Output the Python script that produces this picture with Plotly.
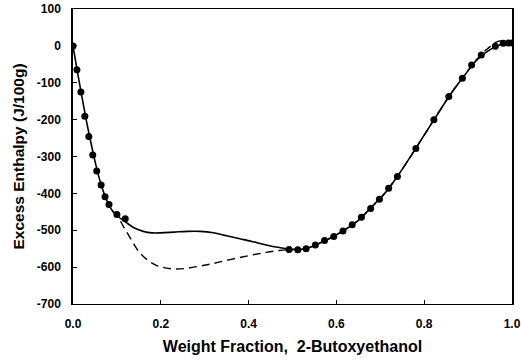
import plotly.graph_objects as go

# Measured data points (markers)
px_ = [0.0, 0.009, 0.018, 0.027, 0.036, 0.045, 0.054, 0.064, 0.073, 0.082, 0.100, 0.119,
       0.492, 0.512, 0.531, 0.552, 0.573, 0.594, 0.615, 0.636, 0.657, 0.678, 0.698,
       0.719, 0.739, 0.781, 0.822, 0.856, 0.887, 0.908, 0.930, 0.962, 0.980, 0.992, 1.0]
py_ = [0, -65, -125, -191, -246, -296, -339, -377, -409, -430, -457, -469,
       -552, -553, -550, -540, -528, -517, -502, -485, -465, -441, -416,
       -386, -354, -278, -200, -137, -88, -52, -25, -1, 7, 8, 8]

# Solid curve
sx = [0, 0.01, 0.02, 0.03, 0.04, 0.05, 0.06, 0.07, 0.08, 0.09, 0.10, 0.12, 0.14, 0.16,
      0.18, 0.20, 0.23, 0.26, 0.29, 0.32, 0.35, 0.38, 0.41, 0.44, 0.47, 0.50, 0.53,
      0.56, 0.59, 0.62, 0.65, 0.68, 0.71, 0.74, 0.77, 0.80, 0.83, 0.86, 0.89, 0.92,
      0.95, 0.98, 1.0]
sy = [0, -70, -136, -200, -258, -312, -360, -398, -427, -448, -460, -478, -494, -503,
      -507, -507, -505, -503, -503, -507, -515, -523, -531, -540, -547, -552, -550,
      -536, -519, -498, -473, -437, -400, -352, -298, -242, -186, -131, -83, -38,
      -10, 6, 8]

# Dashed curve
dx = [0.09, 0.10, 0.115, 0.13, 0.15, 0.17, 0.19, 0.21, 0.235, 0.26, 0.29, 0.32, 0.36,
      0.40, 0.44, 0.47, 0.50, 0.53, 0.56, 0.59, 0.62, 0.65, 0.68, 0.71, 0.74, 0.77,
      0.80, 0.83, 0.86, 0.89, 0.92, 0.95, 0.97, 0.99, 1.0]
dy = [-448, -460, -490, -520, -558, -581, -595, -602, -605, -603, -597, -590, -579,
      -569, -560, -555, -552, -550, -536, -519, -498, -473, -437, -400, -352, -298,
      -242, -186, -131, -83, -36, -2, 13, 12, 8]

xticks = [0.0, 0.2, 0.4, 0.6, 0.8, 1.0]
yticks = [100, 0, -100, -200, -300, -400, -500, -600, -700]

fig = go.Figure()
fig.add_trace(go.Scatter(x=dx, y=dy, mode="lines", line=dict(color="black", width=1.4, dash="8px,5px"),
                         line_shape="spline", showlegend=False, hoverinfo="skip"))
fig.add_trace(go.Scatter(x=sx, y=sy, mode="lines", line=dict(color="black", width=1.6),
                         line_shape="spline", showlegend=False, hoverinfo="skip"))
fig.add_trace(go.Scatter(x=px_, y=py_, mode="markers", marker=dict(color="black", size=7, symbol="circle"),
                         showlegend=False))

font = dict(family="Liberation Sans, Arial, sans-serif", color="black", weight="bold")
fig.update_layout(
    width=521, height=363,
    margin=dict(l=73, r=9, t=9, b=59, autoexpand=False),
    paper_bgcolor="white", plot_bgcolor="white",
    font=font,
)
fig.update_xaxes(
    range=[0, 1], tickvals=xticks, ticktext=[f"{v:.1f}" for v in xticks],
    showgrid=False, zeroline=False, showline=True, linecolor="black", linewidth=1.2, mirror=True,
    ticks="inside", ticklen=4, tickcolor="black", automargin=False,
    tickfont=dict(size=12, **font), ticklabelstandoff=8,
    title=dict(text="Weight Fraction,  2-Butoxyethanol", font=dict(size=16, **font), standoff=11),
)
fig.update_yaxes(
    range=[-700, 100], tickvals=yticks, ticktext=[str(v) for v in yticks],
    showgrid=False, zeroline=False, showline=True, linecolor="black", linewidth=1.5, mirror=True,
    ticks="inside", ticklen=4, tickcolor="black", automargin=False,
    tickfont=dict(size=12, **font), ticklabelstandoff=8,
    title=dict(text="Excess Enthalpy (J/100g)", font=dict(size=15.5, **font), standoff=8),
)
fig.write_html("out.html")
